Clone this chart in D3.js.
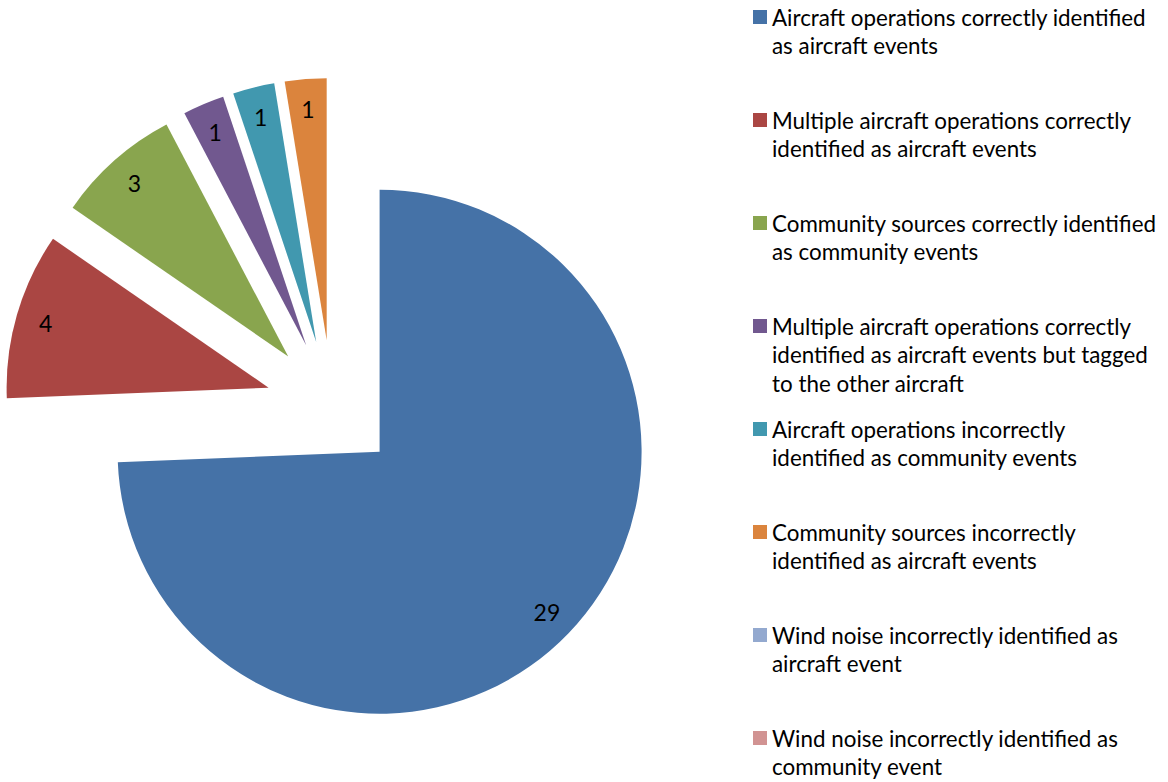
<!DOCTYPE html>
<html>
<head>
<meta charset="utf-8">
<script src="https://cdn.jsdelivr.net/npm/d3@7"></script>
<style>
  html, body { margin: 0; padding: 0; background: #fff; }
  svg { display: block; }
  text { font-family: Lato, "Open Sans", "DejaVu Sans", sans-serif; fill: #000; }
</style>
</head>
<body>
<svg id="chart" width="1168" height="782"></svg>
<script>
// Event classification outcomes ("\n" marks where the legend wraps)
const categories = [
  "Aircraft operations correctly identified\nas aircraft events",
  "Multiple aircraft operations correctly\nidentified as aircraft events",
  "Community sources correctly identified\nas community events",
  "Multiple aircraft operations correctly\nidentified as aircraft events but tagged\nto the other aircraft",
  "Aircraft operations incorrectly\nidentified as community events",
  "Community sources incorrectly\nidentified as aircraft events",
  "Wind noise incorrectly identified as\naircraft event",
  "Wind noise incorrectly identified as\ncommunity event"
];
const counts = [29, 4, 3, 1, 1, 1, 0, 0];
const colors = ["#4572A7", "#AA4643", "#89A54E", "#71588F", "#4198AF", "#DB843D", "#93A9CF", "#D19392"];

const svg = d3.select("#chart");

// Pie geometry
const cx = 332, cy = 406, radius = 262;
const explode = 66;       // every slice pulled out along its bisector
const labelDist = 232;    // data label distance from the slice's own apex

const pie = d3.pie().sort(null).value(d => d.value).startAngle(0).endAngle(2 * Math.PI);
const arc = d3.arc().innerRadius(0).outerRadius(radius);

const data = categories.map((c, i) => ({ name: c, value: counts[i], color: colors[i] }));
const arcs = pie(data);

const g = svg.append("g").attr("transform", `translate(${cx},${cy})`);

const slices = g.selectAll("g.slice")
  .data(arcs.filter(d => d.data.value > 0))
  .join("g")
  .attr("class", "slice")
  .attr("transform", d => {
    const m = (d.startAngle + d.endAngle) / 2;
    return `translate(${Math.sin(m) * explode},${-Math.cos(m) * explode})`;
  });

slices.append("path")
  .attr("d", arc)
  .attr("fill", d => d.data.color);

slices.append("text")
  .attr("x", d => Math.sin((d.startAngle + d.endAngle) / 2) * labelDist)
  .attr("y", d => -Math.cos((d.startAngle + d.endAngle) / 2) * labelDist)
  .attr("text-anchor", "middle")
  .attr("dominant-baseline", "central")
  .style("font-size", "23px")
  .text(d => d.data.value);

// Legend
const legend = svg.append("g").attr("transform", "translate(753,0)");
const textX = 19, firstY = 17, entryGap = 103, lineGap = 28.5;

// Fit the legend font so the first line spans its usual width
const probe = legend.append("text").style("font-size", "20px").text("Aircraft operations correctly identified");
const fontSize = 20 * 374 / probe.node().getComputedTextLength();
probe.remove();

data.forEach((d, i) => {
  const y0 = firstY + i * entryGap;
  legend.append("rect")
    .attr("x", 0).attr("y", y0 - 7)
    .attr("width", 14).attr("height", 14)
    .attr("fill", d.color);
  const t = legend.append("text")
    .attr("x", textX)
    .style("font-size", fontSize + "px");
  d.name.split("\n").forEach((line, j) => {
    t.append("tspan")
      .attr("x", textX)
      .attr("y", y0 + j * lineGap)
      .attr("dominant-baseline", "central")
      .text(line);
  });
});
</script>
</body>
</html>
